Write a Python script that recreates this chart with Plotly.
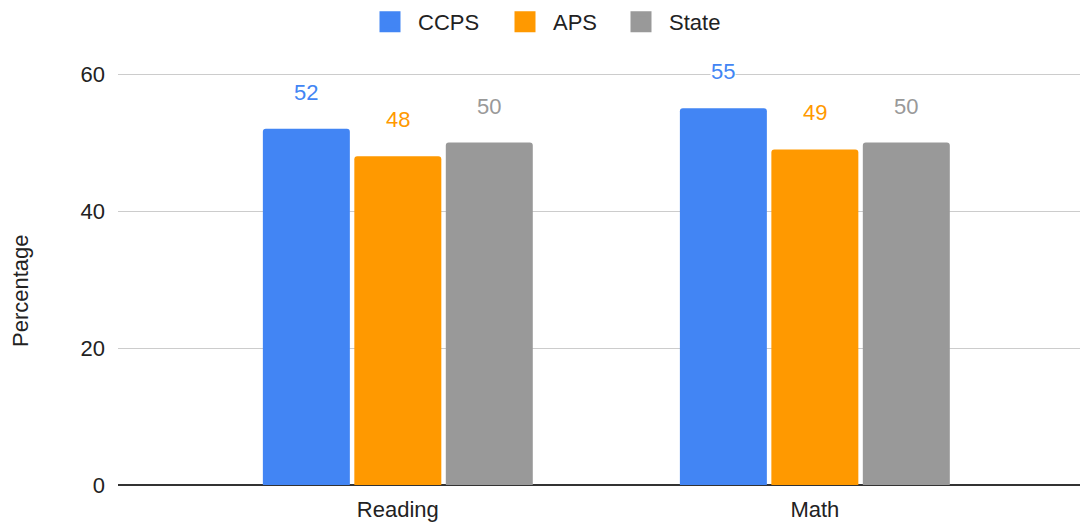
import plotly.graph_objects as go

categories = ["Reading", "Math"]
ccps = [52, 55]
aps = [48, 49]
state = [50, 50]
series_names = ["CCPS", "APS", "State"]
series_colors = ["#4285F4", "#FF9900", "#999999"]
y_ticks = [0, 20, 40, 60]
axis_title = "Percentage"

series_values = [ccps, aps, state]
bargap = 0.342
bargroupgap = 0.049
FONT = "Liberation Sans, Arial"
FS = 22

# page offset (body margin of 8px)
OFF = 8
YMAX = 60.3
PL, PR, PT, PB = 118, 1088, 72, 485  # plot area in page coordinates
W, H = 1088, 525

fig = go.Figure()
legend_ids = ["legend", "legend2", "legend3"]
for name, vals, col, lid in zip(series_names, series_values, series_colors, legend_ids):
    fig.add_trace(go.Bar(name=name, x=categories, y=vals, marker_color=col,
                         marker_line_width=0, hoverinfo="skip", showlegend=False))
    # legend proxy with a large square swatch
    fig.add_trace(go.Scatter(name=name, x=[None], y=[None], mode="markers",
                             marker=dict(symbol="square", size=16, color=col,
                                         line=dict(width=5, color=col)),
                             legend=lid, showlegend=True, hoverinfo="skip"))

n = len(series_values)
slot = (1 - bargap) / n
annotations = []
for k, (vals, col) in enumerate(zip(series_values, series_colors)):
    for i, v in enumerate(vals):
        annotations.append(dict(
            x=i + (k - (n - 1) / 2) * slot, y=v, xref="x", yref="y",
            text=str(v), showarrow=False, yanchor="bottom", yshift=23,
            font=dict(family=FONT, size=FS, color=col),
            bgcolor="white", borderpad=0))

pw = PR - PL
ph = PB - PT
# axis title as annotation (centered like the reference)
annotations.append(dict(
    x=(20 - PL) / pw, y=(PB - 291) / ph, xref="paper", yref="paper",
    text=axis_title, textangle=-90, showarrow=False,
    xanchor="center", yanchor="middle",
    font=dict(family=FONT, size=FS, color="#222222")))

legend_left_px = [362, 497, 613]
legends = {}
for lid, lx in zip(legend_ids, legend_left_px):
    legends[lid] = dict(orientation="h", x=(lx - PL) / pw, xanchor="left",
                        y=1 + (PT - 22) / ph, yanchor="middle",
                        font=dict(family=FONT, size=FS, color="#222222"),
                        itemwidth=46, bgcolor="rgba(0,0,0,0)", borderwidth=0,
                        itemsizing="trace")

fig.update_layout(
    width=W, height=H,
    margin=dict(l=PL - OFF, r=W - PR + OFF, t=PT - OFF, b=H - PB + OFF, autoexpand=False),
    paper_bgcolor="white", plot_bgcolor="white",
    barmode="group", bargap=bargap, bargroupgap=bargroupgap,
    barcornerradius=3,
    font=dict(family=FONT, size=FS, color="#222222"),
    showlegend=True,
    xaxis=dict(type="category", range=[-0.671, 1.655], showgrid=False,
               showline=False, ticks="", ticklabelstandoff=9,
               tickfont=dict(size=FS, color="#222222")),
    yaxis=dict(range=[0, YMAX], tickvals=y_ticks, showgrid=True, gridcolor="#cccccc",
               gridwidth=1, zeroline=True, zerolinecolor="#333333", zerolinewidth=1.5,
               ticks="", ticklabelstandoff=12, tickfont=dict(size=FS, color="#222222")),
    annotations=annotations,
    **legends,
)

fig.write_html("out.html")
